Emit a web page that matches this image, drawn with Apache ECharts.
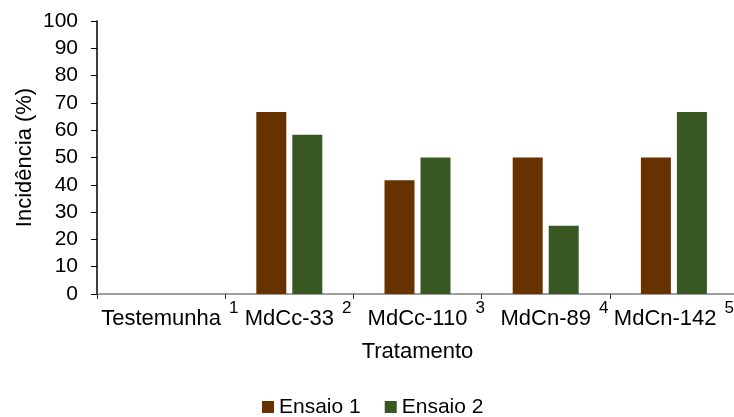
<!DOCTYPE html>
<html>
<head>
<meta charset="utf-8">
<script src="https://cdn.jsdelivr.net/npm/echarts@6/dist/echarts.min.js"></script>
<style>
  html, body { margin: 0; padding: 0; background: #fff; }
  #chart { width: 734px; height: 417px; }
</style>
</head>
<body>
<div id="chart"></div>
<script>
// Treatments and their footnote marks
const categories = ['Testemunha', 'MdCc-33', 'MdCc-110', 'MdCn-89', 'MdCn-142'];
const footnotes = ['1', '2', '3', '4', '5'];

// Incidence (%) per trial
const ensaio1 = [0, 66.7, 41.7, 50, 50];
const ensaio2 = [0, 58.3, 50, 25, 66.7];

const seriesNames = ['Ensaio 1', 'Ensaio 2'];
const yTicks = { min: 0, max: 100, step: 10 };

const FONT = '"Liberation Sans", Arial, sans-serif';

const chart = echarts.init(document.getElementById('chart'), null, { renderer: 'canvas' });

chart.setOption({
  animation: false,
  backgroundColor: '#ffffff',
  textStyle: { fontFamily: FONT, color: '#000' },
  grid: { left: 97, right: -4, top: 21, bottom: 123, outerBoundsMode: 'none', containLabel: false },
  legend: {
    data: seriesNames,
    left: 257,
    top: 391,
    icon: 'rect',
    itemWidth: 12,
    itemHeight: 12,
    itemGap: 24,
    textStyle: { fontFamily: FONT, fontSize: 21, lineHeight: 22, color: '#000' }
  },
  xAxis: {
    type: 'category',
    data: categories,
    name: 'Tratamento',
    nameLocation: 'middle',
    nameGap: 47,
    nameMoveOverlap: false,
    nameTextStyle: { fontFamily: FONT, fontSize: 22, color: '#000' },
    axisLine: { lineStyle: { color: '#7f7f7f', width: 1.5 } },
    axisTick: { show: true, inside: false, length: 5, alignWithLabel: false, lineStyle: { color: '#333', width: 1 } },
    axisLabel: {
      interval: 0,
      margin: 6,
      hideOverlap: false,
      formatter: function (value, idx) {
        // the last label is nudged left so its footnote mark stays inside the canvas
        const pad = idx === categories.length - 1 ? 'padEnd' : 'pad';
        return '{' + pad + '|}{main|' + value + '}{sup|' + footnotes[idx] + '}';
      },
      rich: {
        pad: { width: 17.5, height: 30 },
        padEnd: { width: 0, height: 30 },
        // main text sits at the bottom of a 30px row, the footnote mark at its top
        main: { fontFamily: FONT, fontSize: 22, lineHeight: 22, color: '#000', padding: [8, 0, 0, 0] },
        sup: { fontFamily: FONT, fontSize: 17, lineHeight: 17, color: '#000', padding: [0, 0, 13, 8] }
      }
    },
    splitLine: { show: false }
  },
  yAxis: {
    type: 'value',
    min: yTicks.min,
    max: yTicks.max,
    interval: yTicks.step,
    name: 'Incidência (%)',
    nameLocation: 'middle',
    nameGap: 61,
    nameMoveOverlap: false,
    nameTextStyle: { fontFamily: FONT, fontSize: 22, color: '#000' },
    axisLine: { show: true, lineStyle: { color: '#000', width: 1.5 } },
    axisTick: { show: true, inside: false, length: 6, lineStyle: { color: '#000', width: 1 } },
    axisLabel: { fontFamily: FONT, fontSize: 21, color: '#000', margin: 19 },
    splitLine: { show: false }
  },
  series: [
    {
      name: seriesNames[0],
      type: 'bar',
      data: ensaio1,
      barWidth: 30,
      barGap: '20%',
      itemStyle: { color: '#663300' }
    },
    {
      name: seriesNames[1],
      type: 'bar',
      data: ensaio2,
      barWidth: 30,
      barGap: '20%',
      itemStyle: { color: '#385723' }
    }
  ]
});
</script>
</body>
</html>
